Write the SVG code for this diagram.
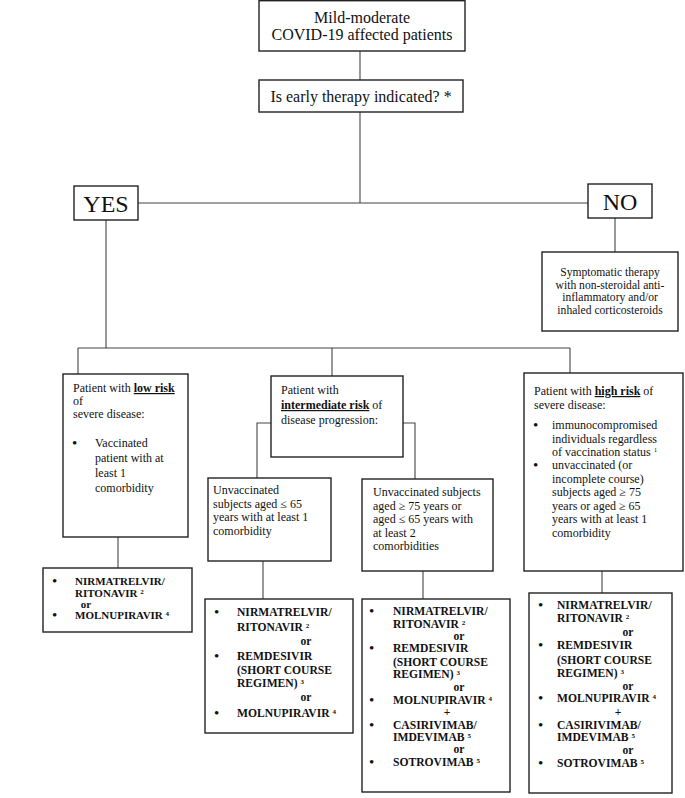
<svg xmlns="http://www.w3.org/2000/svg" width="685" height="798" viewBox="0 0 685 798">
<style>
.box{fill:#fff;stroke:#222;stroke-width:1.4}
.ln{fill:none;stroke:#444;stroke-width:1.1}
text{font-family:"Liberation Serif","Times New Roman",serif;fill:#111}
.t16{font-size:16px}
.t24{font-size:24px}
.t12{font-size:12px}
.s{font-size:11.6px}
.u{font-weight:bold;text-decoration:underline}
.d{font-size:11.6px;font-weight:bold}
.dl{font-size:11px;font-weight:bold}
.bl{font-size:15px}
.c{text-anchor:middle}
.sup{font-size:7px}
</style>
<rect width="685" height="798" fill="#fff"/>
<g id="connectors">
<path class="ln" d="M360 51V80"/>
<path class="ln" d="M360 112V203"/>
<path class="ln" d="M138 203H588"/>
<path class="ln" d="M615 218V252"/>
<path class="ln" d="M106 220V348"/>
<path class="ln" d="M78 348H570"/>
<path class="ln" d="M78 348V374"/>
<path class="ln" d="M332 348V376"/>
<path class="ln" d="M570 348V373"/>
<path class="ln" d="M271 423H257V478"/>
<path class="ln" d="M403 423H415V479"/>
<path class="ln" d="M118 537V568"/>
<path class="ln" d="M263 561V599"/>
<path class="ln" d="M423 571V599"/>
<path class="ln" d="M602 571V593"/>
</g>
<g id="start">
<rect class="box" x="259" y="0.7" width="206" height="50.3"/>
<text class="t16 c" x="362" y="22.5">Mild-moderate</text>
<text class="t16 c" x="362" y="39.5">COVID-19 affected patients</text>
</g>
<g id="question">
<rect class="box" x="259" y="80" width="204" height="32"/>
<text class="t16 c" x="361" y="101.5">Is early therapy indicated? *</text>
</g>
<g id="yes">
<rect class="box" x="74" y="186" width="64" height="34"/>
<text class="t24 c" x="106" y="211.5">YES</text>
</g>
<g id="no">
<rect class="box" x="588" y="184" width="64" height="34"/>
<text class="t24 c" x="620" y="209.5">NO</text>
</g>
<g id="symptomatic">
<rect class="box" x="542" y="252" width="136" height="79"/>
<text class="s c" x="610" y="276">Symptomatic therapy</text>
<text class="s c" x="610" y="288.5">with non-steroidal anti-</text>
<text class="s c" x="610" y="301">inflammatory and/or</text>
<text class="s c" x="610" y="313.5">inhaled corticosteroids</text>
</g>
<g id="low-risk">
<rect class="box" x="63" y="374" width="125" height="163"/>
<text class="t12" x="73" y="392">Patient with <tspan class="u">low risk</tspan></text>
<text class="t12" x="73" y="405">of</text>
<text class="t12" x="73" y="418">severe disease:</text>
<text class="bl" x="72" y="448">•</text>
<text class="t12" x="95" y="447">Vaccinated</text>
<text class="t12" x="95" y="462">patient with at</text>
<text class="t12" x="95" y="477">least 1</text>
<text class="t12" x="95" y="492">comorbidity</text>
</g>
<g id="intermediate-risk">
<rect class="box" x="271" y="376" width="132" height="81"/>
<text class="t12" x="281" y="394">Patient with</text>
<text class="t12" x="281" y="409"><tspan class="u">intermediate risk</tspan> of</text>
<text class="t12" x="281" y="424">disease progression:</text>
</g>
<g id="high-risk">
<rect class="box" x="524" y="373" width="159" height="198"/>
<text class="t12" x="534" y="395">Patient with <tspan class="u">high risk</tspan> of</text>
<text class="t12" x="534" y="408.5">severe disease:</text>
<text class="bl" x="533" y="430">•</text>
<text class="t12" x="552" y="429">immunocompromised</text>
<text class="t12" x="552" y="442.5">individuals regardless</text>
<text class="t12" x="552" y="456">of vaccination status <tspan class="sup" dy="-4">1</tspan></text>
<text class="bl" x="533" y="470">•</text>
<text class="t12" x="552" y="469">unvaccinated (or</text>
<text class="t12" x="552" y="482.5">incomplete course)</text>
<text class="t12" x="552" y="496">subjects aged ≥ 75</text>
<text class="t12" x="552" y="509.5">years or aged ≥ 65</text>
<text class="t12" x="552" y="523">years with at least 1</text>
<text class="t12" x="552" y="536.5">comorbidity</text>
</g>
<g id="unvacc-65">
<rect class="box" x="208" y="478" width="123" height="83"/>
<text class="t12" x="213" y="494">Unvaccinated</text>
<text class="t12" x="213" y="507.5">subjects aged ≤ 65</text>
<text class="t12" x="213" y="521">years with at least 1</text>
<text class="t12" x="213" y="535">comorbidity</text>
</g>
<g id="unvacc-75">
<rect class="box" x="362" y="479" width="131" height="92"/>
<text class="t12" x="373" y="496">Unvaccinated subjects</text>
<text class="t12" x="373" y="509.5">aged ≥ 75 years or</text>
<text class="t12" x="373" y="523">aged ≤ 65 years with</text>
<text class="t12" x="373" y="536.5">at least 2</text>
<text class="t12" x="373" y="550">comorbidities</text>
</g>
<g id="drugs-low">
<rect class="box" x="43" y="568" width="149" height="64"/>
<text class="bl" x="52" y="586">•</text>
<text class="dl" x="75" y="585">NIRMATRELVIR/</text>
<text class="dl" x="75" y="596.5">RITONAVIR <tspan class="sup" dy="-3">2</tspan></text>
<text class="dl c" x="86" y="607.5">or</text>
<text class="bl" x="52" y="620">•</text>
<text class="dl" x="75" y="619">MOLNUPIRAVIR <tspan class="sup" dy="-3">4</tspan></text>
</g>
<g id="drugs-intermediate-1">
<rect class="box" x="205" y="599" width="148" height="134"/>
<text class="bl" x="214" y="617">•</text>
<text class="d" x="237" y="616">NIRMATRELVIR/</text>
<text class="d" x="237" y="631">RITONAVIR <tspan class="sup" dy="-3">2</tspan></text>
<text class="d c" x="306" y="645">or</text>
<text class="bl" x="214" y="661">•</text>
<text class="d" x="237" y="660">REMDESIVIR</text>
<text class="d" x="237" y="673.5">(SHORT COURSE</text>
<text class="d" x="237" y="687">REGIMEN) <tspan class="sup" dy="-3">3</tspan></text>
<text class="d c" x="306" y="701">or</text>
<text class="bl" x="214" y="718">•</text>
<text class="d" x="237" y="717">MOLNUPIRAVIR <tspan class="sup" dy="-3">4</tspan></text>
</g>
<g id="drugs-intermediate-2">
<rect class="box" x="362" y="599" width="148" height="193"/>
<text class="bl" x="369" y="616">•</text>
<text class="d" x="393" y="615">NIRMATRELVIR/</text>
<text class="d" x="393" y="627.5">RITONAVIR <tspan class="sup" dy="-3">2</tspan></text>
<text class="d c" x="459" y="640">or</text>
<text class="bl" x="369" y="653">•</text>
<text class="d" x="393" y="652">REMDESIVIR</text>
<text class="d" x="393" y="665.5">(SHORT COURSE</text>
<text class="d" x="393" y="678">REGIMEN) <tspan class="sup" dy="-3">3</tspan></text>
<text class="d c" x="459" y="691">or</text>
<text class="bl" x="369" y="705">•</text>
<text class="d" x="393" y="704">MOLNUPIRAVIR <tspan class="sup" dy="-3">4</tspan></text>
<text class="d c" x="447" y="716">+</text>
<text class="bl" x="369" y="730">•</text>
<text class="d" x="393" y="729">CASIRIVIMAB/</text>
<text class="d" x="393" y="741">IMDEVIMAB <tspan class="sup" dy="-3">5</tspan></text>
<text class="d c" x="459" y="752.5">or</text>
<text class="bl" x="369" y="767">•</text>
<text class="d" x="393" y="766">SOTROVIMAB <tspan class="sup" dy="-3">5</tspan></text>
</g>
<g id="drugs-high">
<rect class="box" x="529" y="593" width="143" height="200"/>
<text class="bl" x="538" y="610">•</text>
<text class="d" x="557" y="609">NIRMATRELVIR/</text>
<text class="d" x="557" y="622">RITONAVIR <tspan class="sup" dy="-3">2</tspan></text>
<text class="d c" x="628" y="636">or</text>
<text class="bl" x="538" y="650">•</text>
<text class="d" x="557" y="649">REMDESIVIR</text>
<text class="d" x="557" y="663.5">(SHORT COURSE</text>
<text class="d" x="557" y="677">REGIMEN) <tspan class="sup" dy="-3">3</tspan></text>
<text class="d c" x="628" y="690">or</text>
<text class="bl" x="538" y="703">•</text>
<text class="d" x="557" y="702">MOLNUPIRAVIR <tspan class="sup" dy="-3">4</tspan></text>
<text class="d c" x="618" y="716">+</text>
<text class="bl" x="538" y="730">•</text>
<text class="d" x="557" y="729">CASIRIVIMAB/</text>
<text class="d" x="557" y="741">IMDEVIMAB <tspan class="sup" dy="-3">5</tspan></text>
<text class="d c" x="628" y="754">or</text>
<text class="bl" x="538" y="768">•</text>
<text class="d" x="557" y="767">SOTROVIMAB <tspan class="sup" dy="-3">5</tspan></text>
</g>
</svg>
